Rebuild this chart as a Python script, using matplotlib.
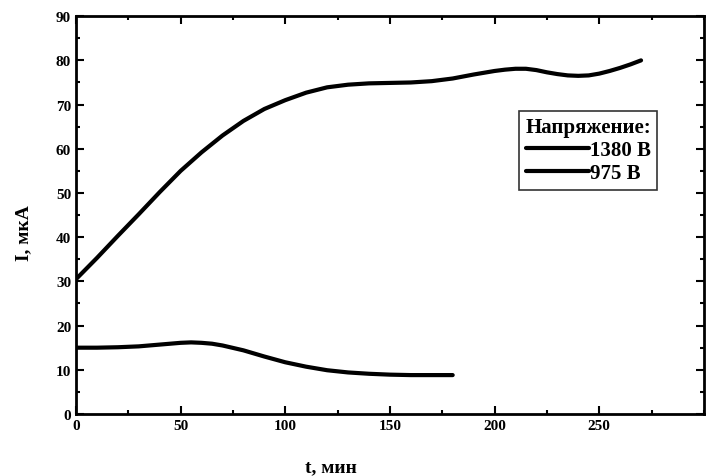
import matplotlib
matplotlib.use("Agg")
import matplotlib.pyplot as plt
from matplotlib.ticker import MultipleLocator

plt.rcParams['font.family'] = ['Liberation Serif', 'DejaVu Serif']
plt.rcParams['font.weight'] = 'bold'

# 1380 В
t_high = [0, 10, 20, 30, 40, 50, 60, 70, 80, 90, 100, 110, 120, 130, 140,
          150, 160, 170, 180, 190, 200, 205, 210, 215, 220, 225, 230, 235,
          240, 245, 250, 255, 260, 265, 270]
i_high = [30.5, 35.3, 40.3, 45.2, 50.2, 55, 59.2, 63, 66.3, 69, 71, 72.7, 73.9,
          74.5, 74.8, 74.9, 75, 75.3, 75.9, 76.8, 77.6, 77.9, 78.1, 78.1, 77.8,
          77.3, 76.9, 76.6, 76.5, 76.6, 77, 77.6, 78.3, 79.1, 80]

# 975 В
t_low = [0, 10, 20, 30, 40, 45, 50, 55, 60, 65, 70, 80, 90, 100, 110, 120,
         130, 140, 150, 160, 170, 180]
i_low = [15, 15, 15.1, 15.3, 15.7, 15.9, 16.1, 16.2, 16.1, 15.9, 15.5, 14.4,
         13, 11.7, 10.7, 9.9, 9.4, 9.1, 8.9, 8.8, 8.8, 8.8]

labels = ['1380 В', '975 В']

fig = plt.figure(figsize=(7.07, 4.77), dpi=100)
ax = fig.add_axes([0.1075, 0.13, 0.888, 0.834])

ax.plot(t_high, i_high, color='black', linewidth=3, label=labels[0],
        solid_capstyle='round', solid_joinstyle='round')
ax.plot(t_low, i_low, color='black', linewidth=3, label=labels[1],
        solid_capstyle='round', solid_joinstyle='round')

ax.set_xlim(0, 300)
ax.set_ylim(0, 90)
ax.set_xticks([0, 50, 100, 150, 200, 250])
ax.xaxis.set_minor_locator(MultipleLocator(25))
ax.yaxis.set_major_locator(MultipleLocator(10))
ax.yaxis.set_minor_locator(MultipleLocator(5))
ax.tick_params(which='both', direction='in', top=True, right=True, labelsize=11, width=1.5)
ax.tick_params(which='major', length=6)
ax.tick_params(which='minor', length=3)
for s in ax.spines.values():
    s.set_linewidth(2)

ax.set_xlabel('t, мин', fontsize=14, fontweight='bold')
ax.set_ylabel('I, мкА', fontsize=14, fontweight='bold')
ax.xaxis.set_label_coords(0.406, -0.11)
ax.yaxis.set_label_coords(-0.07, 0.457)

leg = ax.legend(title='Напряжение:', loc='upper left', bbox_to_anchor=(0.706, 0.762),
                fontsize=15, title_fontsize=15, frameon=True, fancybox=False,
                edgecolor='black', handlelength=3.0, handletextpad=0.05,
                borderpad=0.3, labelspacing=0.15, borderaxespad=0)
leg.get_title().set_fontweight('bold')
leg.get_frame().set_linewidth(1.2)

fig.savefig('out.png', dpi=100)
